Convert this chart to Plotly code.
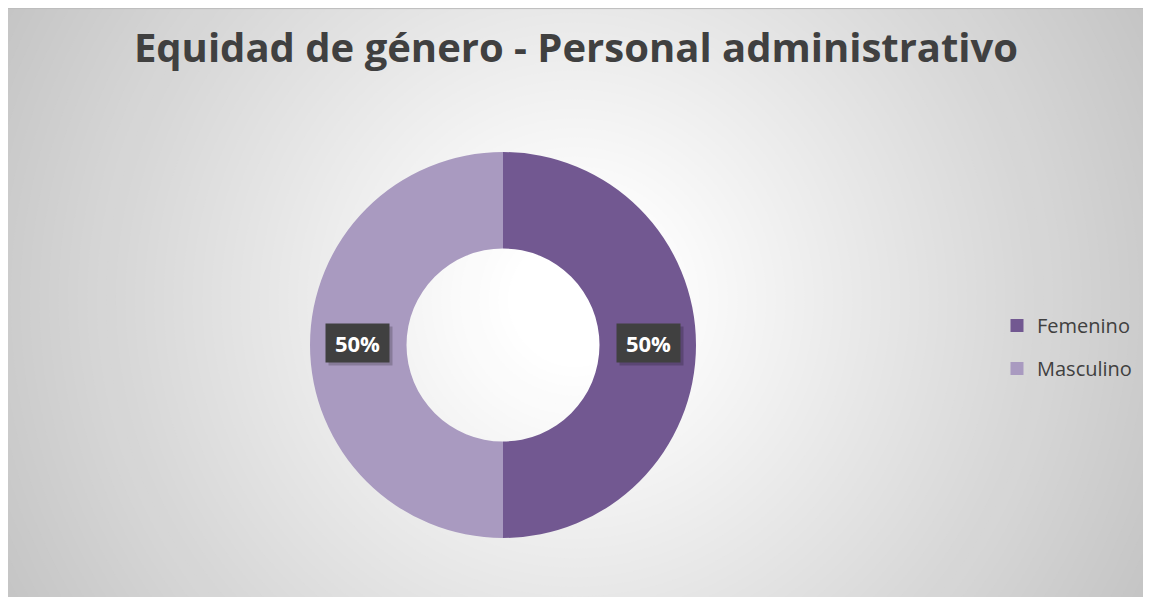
import math
import plotly.graph_objects as go

# ---- data ----
categories = ["Femenino", "Masculino"]
values = [50, 50]
colors = ["#725891", "#A99AC0"]
title_text = "Equidad de género - Personal administrativo"

# ---- layout geometry (page pixels) ----
W, H = 1151, 597
OFF = 8  # page body margin
CX, CY, R = 503, 345, 193
HOLE = 0.5

def px_x(x):
    return (x - OFF) / W

def px_y(y):
    return 1 - (y - OFF) / H

fig = go.Figure()

fig.add_trace(go.Pie(
    labels=categories, values=values, hole=HOLE, sort=False,
    direction="clockwise", rotation=0,
    marker=dict(colors=colors, line=dict(width=0)),
    textinfo="none", hoverinfo="label+percent", showlegend=False,
    domain=dict(x=[px_x(CX - R), px_x(CX + R)], y=[px_y(CY + R), px_y(CY - R)]),
))

# legend via placeholder traces
for cat, col in zip(categories, colors):
    fig.add_trace(go.Scatter(
        x=[None], y=[None], mode="markers", name=cat, legendgroup=cat,
        marker=dict(symbol="square", size=13, color=col),
    ))

# background radial gradient
shapes = []
GX, GY, GR = 575, 300, 660
N = 70
c_out, c_in = 0xC3, 0xFF
for i in range(N):
    t = i / (N - 1)
    r = max(GR * (1 - t), 2)
    c = int(round(c_out + (c_in - c_out) * min(1.0, t * 1.12)))
    col = f"rgb({c},{c},{c})"
    shapes.append(dict(type="circle", xref="paper", yref="paper", layer="below",
                       x0=px_x(GX - r), x1=px_x(GX + r), y0=px_y(GY + r), y1=px_y(GY - r),
                       fillcolor=col, line=dict(width=0)))
shapes.append(dict(type="line", xref="paper", yref="paper", layer="below",
                   x0=0, x1=1, y0=0.999, y1=0.999, line=dict(color="#bcbcbc", width=1)))

# data labels
annotations = []
total = sum(values)
cum = 0
r_mid = R * (1 + HOLE) / 2 + 1
for v in values:
    ang = 2 * math.pi * (cum + v / 2) / total
    cum += v
    lx = CX + r_mid * math.sin(ang)
    ly = CY - 2 - r_mid * math.cos(ang)
    pct = f"{round(100 * v / total)}%"
    common = dict(x=px_x(lx), y=px_y(ly), xref="paper", yref="paper",
                  xanchor="center", yanchor="middle", showarrow=False,
                  width=51, height=26, borderpad=6)
    annotations.append(dict(text=" ", bgcolor="rgba(0,0,0,0.2)", xshift=3, yshift=-3, **common))
    annotations.append(dict(text=f"<b>{pct}</b>", bgcolor="#404040",
                            font=dict(family="Open Sans", size=22, color="white"), **common))

fig.update_layout(
    width=W, height=H,
    margin=dict(l=0, r=0, t=0, b=0),
    paper_bgcolor="white", plot_bgcolor="rgba(0,0,0,0)",
    title=dict(text=f"<b>{title_text}</b>", x=px_x(576), xanchor="center", y=px_y(48), yanchor="middle",
               font=dict(family="Open Sans", size=40, color="#404040")),
    xaxis=dict(visible=False), yaxis=dict(visible=False),
    legend=dict(x=px_x(997), xanchor="left", y=px_y(347), yanchor="middle",
                traceorder="grouped", tracegroupgap=14, bgcolor="rgba(0,0,0,0)",
                font=dict(family="Open Sans", size=20, color="#404040"), itemclick=False),
    shapes=shapes, annotations=annotations,
)

fig.write_html("out.html")
